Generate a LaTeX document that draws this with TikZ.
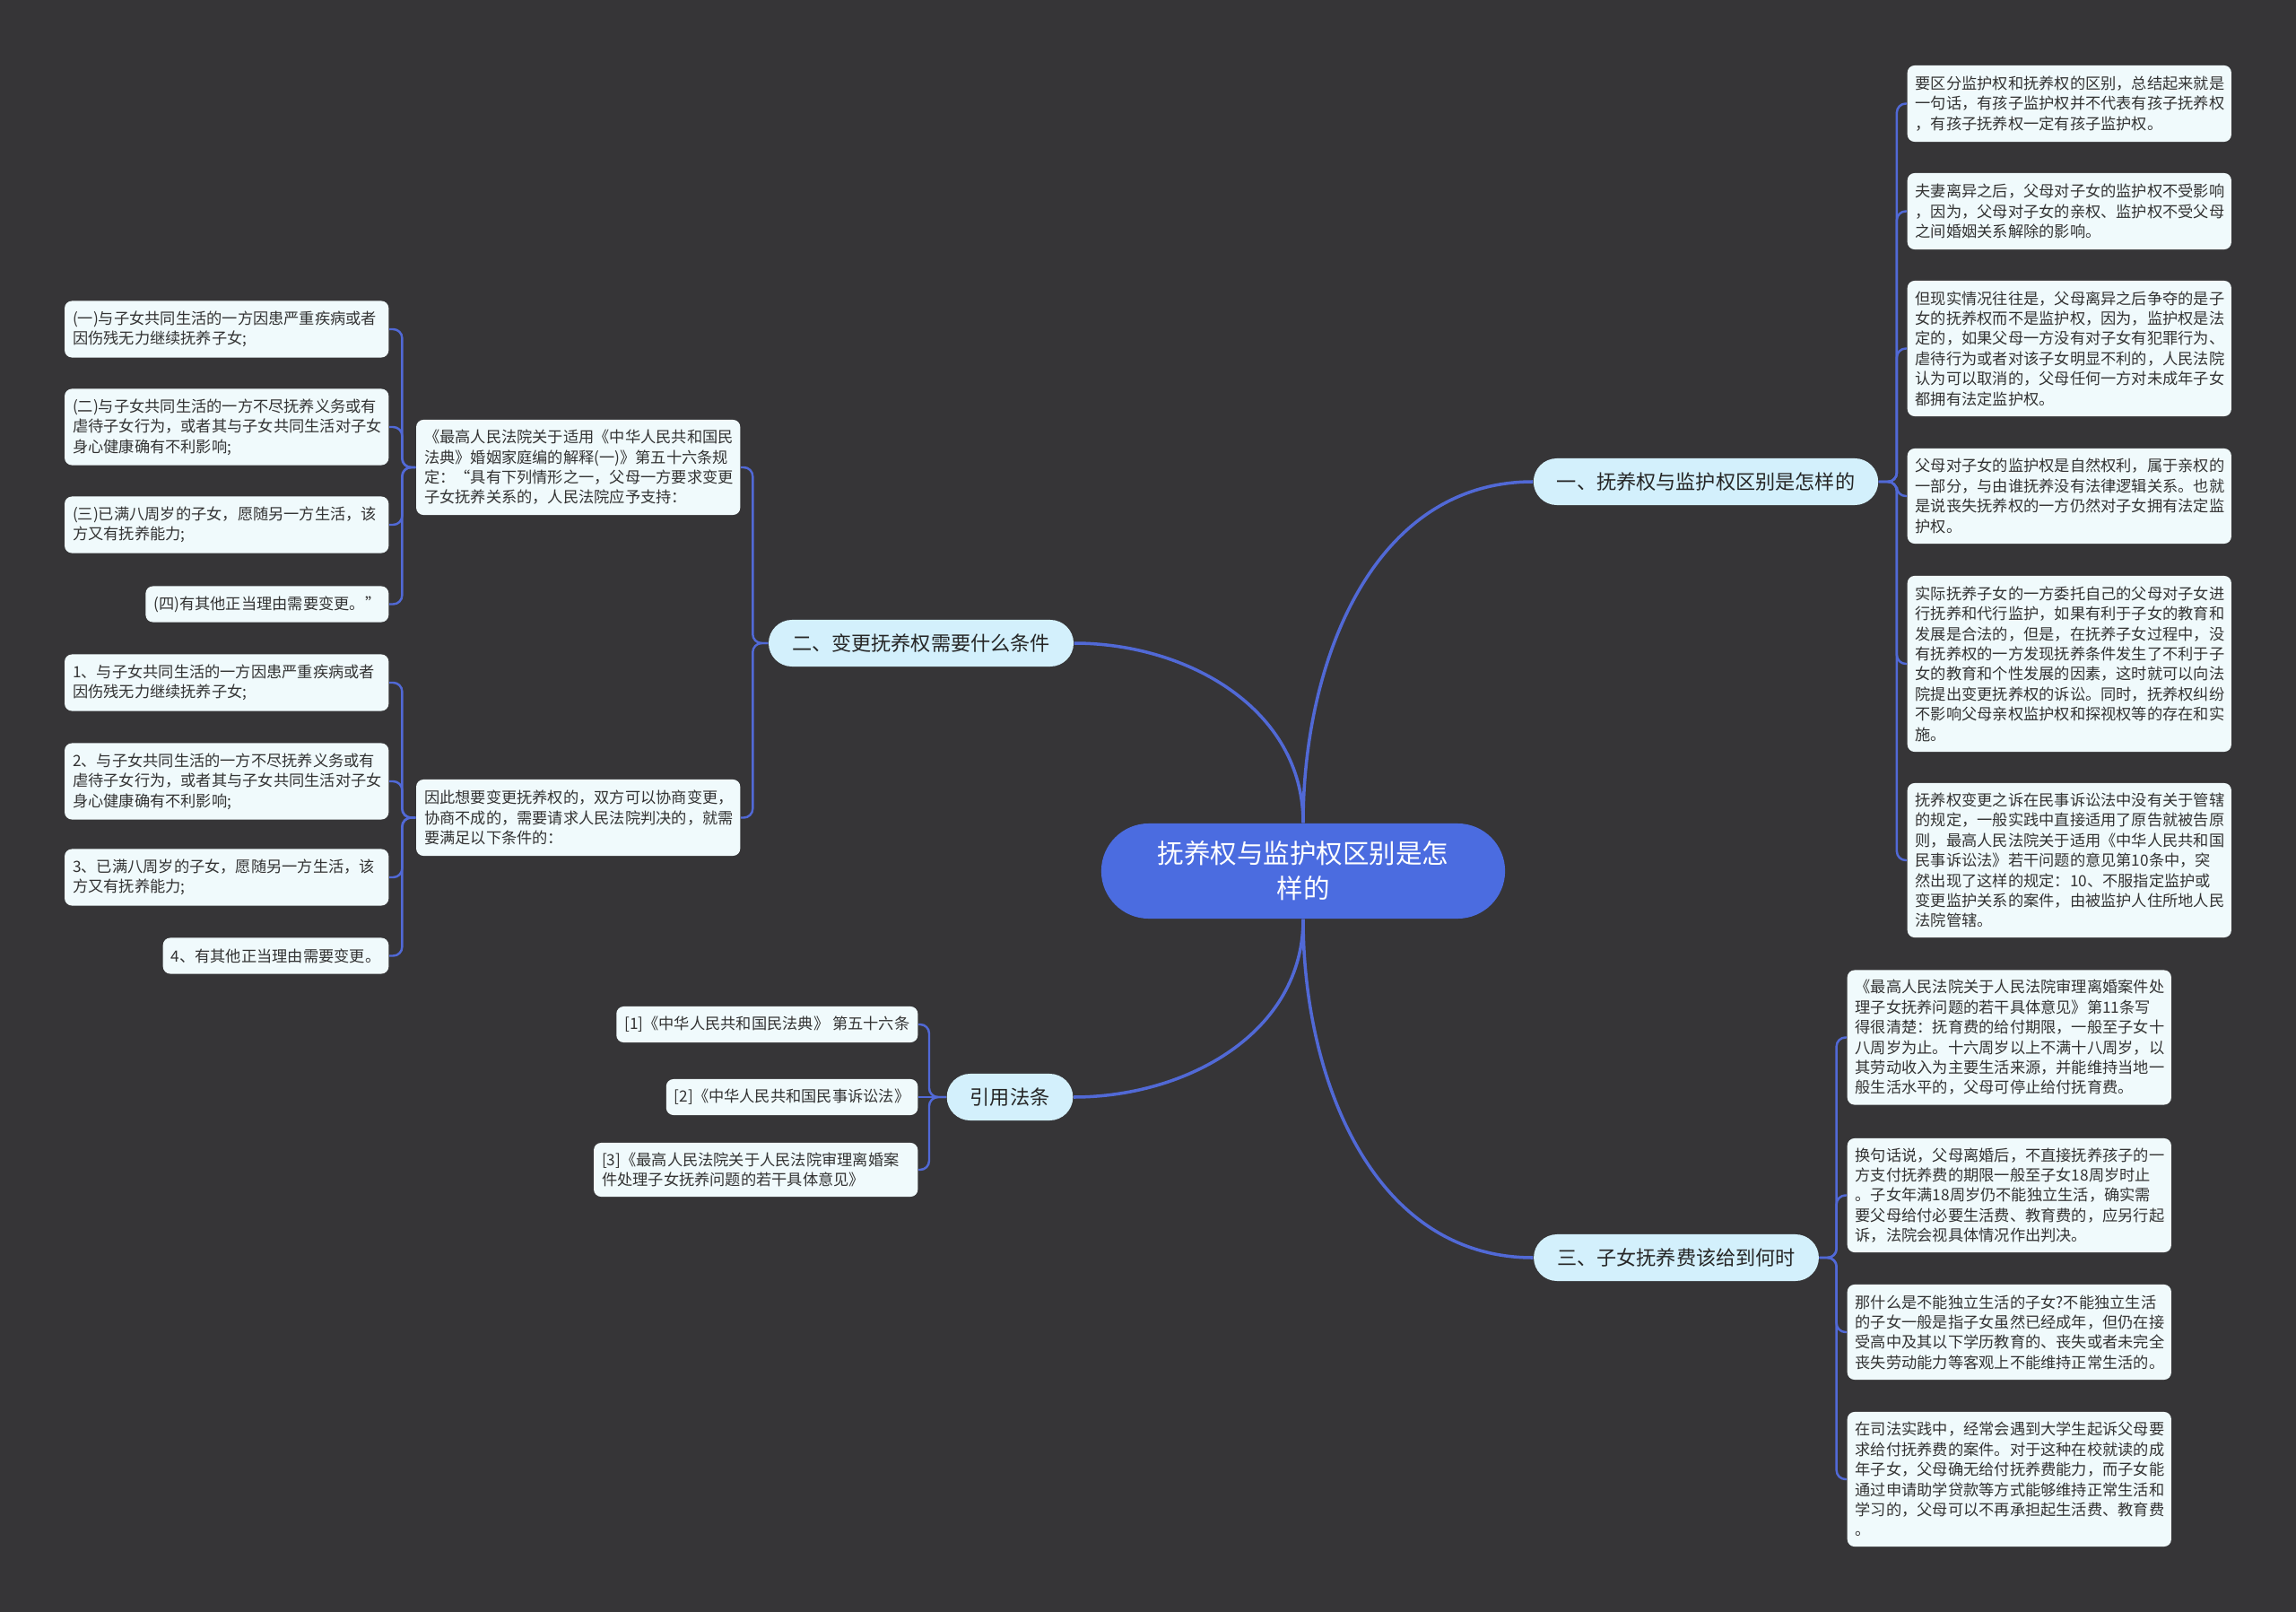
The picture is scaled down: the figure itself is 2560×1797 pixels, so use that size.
\documentclass[tikz,border=0pt]{standalone}
\usepackage{fontspec}
\setmainfont{Noto Sans CJK SC}
\usepackage{tikz}
\usetikzlibrary{positioning, calc}

\definecolor{fundo}{HTML}{363537}
\definecolor{raiz}{HTML}{4B6CE0}
\definecolor{ramo}{HTML}{D3F0FC}
\definecolor{folha}{HTML}{F0FAFC}
\definecolor{linha}{HTML}{5169D6}

\begin{document}
\begin{tikzpicture}[x=0.01cm, y=-0.01cm,
  rootbox/.style={fill=raiz, text=white, rounded corners=0.53cm, minimum width=4.5cm,
    minimum height=1.06cm, text width=3.4cm, align=center, inner sep=0pt,
    font=\fontsize{8.4}{11.1}\selectfont},
  branchbox/.style={fill=ramo, text=black!85, rounded corners=0.26cm, minimum height=0.52cm,
    inner xsep=0.26cm, inner ysep=0pt, font=\fontsize{6.3}{7.5}\selectfont},
  leafbox/.style={fill=folha, text=black!80, rounded corners=0.8mm, inner xsep=0.09cm,
    inner ysep=0.08cm, align=left, font=\fontsize{4.9}{6.37}\selectfont},
  leafwide/.style={leafbox, text width=3.43cm},
  link/.style={draw=linha, line width=1pt},
  twig/.style={draw=linha, line width=0.7pt, rounded corners=1mm}]

  \fill[fundo] (0,0) rectangle (2560,1797);

  % ---------- centro ----------
  \node[rootbox] (C) at (1453,971) {抚养权与监护权区别是怎\\样的};

  \node[branchbox] (B1) at (1902,537) {一、抚养权与监护权区别是怎样的};
  \node[branchbox] (B2) at (1027,717) {二、变更抚养权需要什么条件};
  \node[branchbox] (B3) at (1126,1223) {引用法条};
  \node[branchbox] (B4) at (1869,1402) {三、子女抚养费该给到何时};

  \draw[link] (C.north) to[out=90,in=180] (B1.west);
  \draw[link] (C.north) to[out=90,in=0] (B2.east);
  \draw[link] (C.south) to[out=-90,in=0] (B3.east);
  \draw[link] (C.south) to[out=-90,in=180] (B4.west);

  % ---------- ramo um ----------
  \node[leafwide, anchor=west, minimum height=0.85cm] (r1) at (2126,115.5)
    {要区分监护权和抚养权的区别，总结起来就是\\一句话，有孩子监护权并不代表有孩子抚养权\\，有孩子抚养权一定有孩子监护权。};
  \node[leafwide, anchor=west, minimum height=0.85cm] (r2) at (2126,235.5)
    {夫妻离异之后，父母对子女的监护权不受影响\\，因为，父母对子女的亲权、监护权不受父母\\之间婚姻关系解除的影响。};
  \node[leafwide, anchor=west, minimum height=1.51cm] (r3) at (2126,388.5)
    {但现实情况往往是，父母离异之后争夺的是子\\女的抚养权而不是监护权，因为，监护权是法\\定的，如果父母一方没有对子女有犯罪行为、\\虐待行为或者对该子女明显不利的，人民法院\\认为可以取消的，父母任何一方对未成年子女\\都拥有法定监护权。};
  \node[leafwide, anchor=west, minimum height=1.06cm] (r4) at (2126,553)
    {父母对子女的监护权是自然权利，属于亲权的\\一部分，与由谁抚养没有法律逻辑关系。也就\\是说丧失抚养权的一方仍然对子女拥有法定监\\护权。};
  \node[leafwide, anchor=west, minimum height=1.96cm] (r5) at (2126,740)
    {实际抚养子女的一方委托自己的父母对子女进\\行抚养和代行监护，如果有利于子女的教育和\\发展是合法的，但是，在抚养子女过程中，没\\有抚养权的一方发现抚养条件发生了不利于子\\女的教育和个性发展的因素，这时就可以向法\\院提出变更抚养权的诉讼。同时，抚养权纠纷\\不影响父母亲权监护权和探视权等的存在和实\\施。};
  \node[leafwide, anchor=west, minimum height=1.72cm] (r6) at (2126,959)
    {抚养权变更之诉在民事诉讼法中没有关于管辖\\的规定，一般实践中直接适用了原告就被告原\\则，最高人民法院关于适用《中华人民共和国\\民事诉讼法》若干问题的意见第10条中，突\\然出现了这样的规定：10、不服指定监护或\\变更监护关系的案件，由被监护人住所地人民\\法院管辖。};
  \foreach \n in {r1,r2,r3,r4,r5,r6}
    \draw[twig] (B1.east) -- ++(20,0) |- (\n.west);

  % ---------- ramo tres ----------
  \node[leafwide, anchor=west, minimum height=1.50cm] (t1) at (2059,1156.5)
    {《最高人民法院关于人民法院审理离婚案件处\\理子女抚养问题的若干具体意见》第11条写\\得很清楚：抚育费的给付期限，一般至子女十\\八周岁为止。十六周岁以上不满十八周岁，以\\其劳动收入为主要生活来源，并能维持当地一\\般生活水平的，父母可停止给付抚育费。};
  \node[leafwide, anchor=west, minimum height=1.27cm] (t2) at (2059,1332.5)
    {换句话说，父母离婚后，不直接抚养孩子的一\\方支付抚养费的期限一般至子女18周岁时止\\。子女年满18周岁仍不能独立生活，确实需\\要父母给付必要生活费、教育费的，应另行起\\诉，法院会视具体情况作出判决。};
  \node[leafwide, anchor=west, minimum height=1.06cm] (t3) at (2059,1485)
    {那什么是不能独立生活的子女?不能独立生活\\的子女一般是指子女虽然已经成年，但仍在接\\受高中及其以下学历教育的、丧失或者未完全\\丧失劳动能力等客观上不能维持正常生活的。};
  \node[leafwide, anchor=west, minimum height=1.50cm] (t4) at (2059,1649)
    {在司法实践中，经常会遇到大学生起诉父母要\\求给付抚养费的案件。对于这种在校就读的成\\年子女，父母确无给付抚养费能力，而子女能\\通过申请助学贷款等方式能够维持正常生活和\\学习的，父母可以不再承担起生活费、教育费\\。};
  \foreach \n in {t1,t2,t3,t4}
    \draw[twig] (B4.east) -- ++(19,0) |- (\n.west);

  % ---------- ramo dois ----------
  \node[leafwide, anchor=east, minimum height=1.06cm] (mA) at (826,521)
    {《最高人民法院关于适用《中华人民共和国民\\法典》婚姻家庭编的解释(一)》第五十六条规\\定：“具有下列情形之一，父母一方要求变更\\子女抚养关系的，人民法院应予支持：};
  \node[leafwide, anchor=east, minimum height=0.85cm] (mB) at (826,911.5)
    {因此想要变更抚养权的，双方可以协商变更，\\协商不成的，需要请求人民法院判决的，就需\\要满足以下条件的：};
  \foreach \n in {mA,mB}
    \draw[twig] (B2.west) -- ++(-17,0) |- (\n.east);

  \node[leafwide, anchor=east, minimum height=0.63cm] (a1) at (434,367)
    {(一)与子女共同生活的一方因患严重疾病或者\\因伤残无力继续抚养子女;};
  \node[leafwide, anchor=east, minimum height=0.85cm] (a2) at (434,476)
    {(二)与子女共同生活的一方不尽抚养义务或有\\虐待子女行为，或者其与子女共同生活对子女\\身心健康确有不利影响;};
  \node[leafwide, anchor=east, minimum height=0.63cm] (a3) at (434,585)
    {(三)已满八周岁的子女，愿随另一方生活，该\\方又有抚养能力;};
  \node[leafbox, anchor=east, minimum height=0.40cm] (a4) at (434,673.5)
    {(四)有其他正当理由需要变更。”};
  \foreach \n in {a1,a2,a3,a4}
    \draw[twig] (mA.west) -- ++(-15,0) |- (\n.east);

  \node[leafwide, anchor=east, minimum height=0.63cm] (b1) at (434,761)
    {1、与子女共同生活的一方因患严重疾病或者\\因伤残无力继续抚养子女;};
  \node[leafwide, anchor=east, minimum height=0.85cm] (b2) at (434,871)
    {2、与子女共同生活的一方不尽抚养义务或有\\虐待子女行为，或者其与子女共同生活对子女\\身心健康确有不利影响;};
  \node[leafwide, anchor=east, minimum height=0.63cm] (b3) at (434,978)
    {3、已满八周岁的子女，愿随另一方生活，该\\方又有抚养能力;};
  \node[leafbox, anchor=east, minimum height=0.40cm] (b4) at (434,1065.5)
    {4、有其他正当理由需要变更。};
  \foreach \n in {b1,b2,b3,b4}
    \draw[twig] (mB.west) -- ++(-15,0) |- (\n.east);

  % ---------- referencias ----------
  \node[leafbox, anchor=east, minimum height=0.40cm] (c1) at (1024,1142)
    {[1]《中华人民共和国民法典》 第五十六条};
  \node[leafbox, anchor=east, minimum height=0.40cm] (c2) at (1024,1223)
    {[2]《中华人民共和国民事诉讼法》};
  \node[leafwide, anchor=east, minimum height=0.60cm] (c3) at (1024,1304)
    {[3]《最高人民法院关于人民法院审理离婚案\\件处理子女抚养问题的若干具体意见》};
  \draw[twig] (B3.west) -- (c2.east);
  \foreach \n in {c1,c3}
    \draw[twig] (B3.west) -- ++(-19,0) |- (\n.east);
\end{tikzpicture}
\end{document}
